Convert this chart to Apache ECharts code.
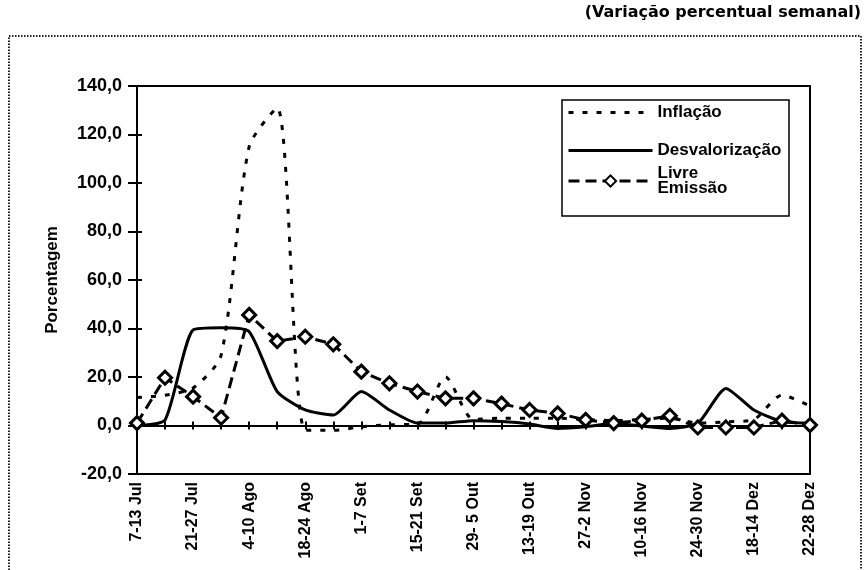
<!DOCTYPE html>
<html>
<head>
<meta charset="utf-8">
<script src="https://cdn.jsdelivr.net/npm/echarts@6/dist/echarts.min.js"></script>
<style>
  html, body { margin: 0; padding: 0; background: #fff; }
  #chart { width: 864px; height: 570px; }
</style>
</head>
<body>
<div id="chart"></div>
<script>
// semanas (jul - dez)
const semanas = ['7-13 Jul', '14-20 Jul', '21-27 Jul', '28-3 Ago', '4-10 Ago', '11-17 Ago', '18-24 Ago', '25-31 Ago',
  '1-7 Set', '8-14 Set', '15-21 Set', '22-28 Set', '29- 5 Out', '6-12 Out', '13-19 Out', '20-26 Out',
  '27-2 Nov', '3-9 Nov', '10-16 Nov', '17-23 Nov', '24-30 Nov', '1-7 Dez', '18-14 Dez', '15-21 Dez', '22-28 Dez']

const inflacao = [11.5, 12.5, 15.5, 29, 115, 131, -2, -2, -0.5, 0.3, 0.5, 20, 2.5, 3, 3, 3, 2.5, 2, 2.5, 3, 1, 1.5, 2.5, 12.5, 8]
const desvalorizacao = [0, 2.3, 39.4, 40.3, 38.7, 14, 6.4, 4.3, 14, 6.4, 1, 1, 2, 1.6, 0.6, -1.2, -0.5, 0.8, -0.2, -1.2, 0.9, 15.3, 6.4, 1.6, 1]
const livreEmissao = [1, 19.7, 11.9, 3.2, 45.6, 34.8, 36.6, 33.5, 22.2, 17.4, 14, 11.2, 11.2, 9, 6.4, 5, 2.3, 1, 2, 4, -0.8, -0.8, -0.8, 2, 0.2]

const yMin = -20
const yMax = 140
const yStep = 20

const chartInstance = echarts.init(document.getElementById('chart'))

const fmt = v => v.toFixed(1).replace('.', ',')
const bold = { color: '#000', fontWeight: 'bold', fontFamily: '"Liberation Sans"' }

const option = {
  animation: false,
  backgroundColor: '#fff',
  title: {
    text: '(Variação percentual semanal)',
    right: 3,
    top: 5,
    padding: 0,
    textStyle: { color: '#000', fontSize: 16, fontWeight: 'bold', fontFamily: '"DejaVu Sans"' }
  },
  graphic: [
    {
      type: 'rect',
      shape: { x: 9, y: 36, width: 852, height: 600 },
      style: { fill: 'none', stroke: '#222', lineWidth: 2, lineDash: [1.5, 1.5] },
      silent: true
    },
    {
      type: 'rect',
      shape: { x: 562, y: 100, width: 227, height: 116 },
      style: { fill: 'none', stroke: '#000', lineWidth: 1.5 },
      silent: true
    }
  ],
  legend: [
    {
      data: [
        { name: 'Inflação', itemStyle: { opacity: 0 } },
        { name: 'Desvalorização', itemStyle: { opacity: 0 } }
      ],
      orient: 'vertical',
      left: 567,
      top: 104,
      padding: 0,
      itemGap: 21,
      itemWidth: 84,
      itemHeight: 14,
      selectedMode: false,
      lineStyle: { width: 3 },
      textStyle: Object.assign({ fontSize: 17 }, bold)
    },
    {
      data: ['Livre Emissão'],
      orient: 'vertical',
      left: 567,
      top: 165,
      padding: 0,
      itemWidth: 84,
      itemHeight: 14,
      selectedMode: false,
      lineStyle: { width: 3 },
      formatter: () => 'Livre\nEmissão',
      textStyle: Object.assign({ fontSize: 17, lineHeight: 15 }, bold)
    }
  ],
  grid: {
    left: 137,
    right: 54,
    top: 86,
    bottom: 96,
    show: true,
    borderColor: '#000',
    borderWidth: 2
  },
  xAxis: [
    {
      type: 'category',
      data: semanas,
      boundaryGap: false,
      position: 'bottom',
      axisLine: { onZero: false, lineStyle: { color: '#000', width: 2 } },
      axisTick: { show: false },
      axisLabel: Object.assign({ rotate: 90, interval: 1, fontSize: 16, margin: 8 }, bold),
      splitLine: { show: false }
    },
    {
      // linha do zero, marcas para baixo
      type: 'category',
      data: semanas,
      boundaryGap: false,
      position: 'bottom',
      axisLine: { onZero: true, onZeroAxisIndex: 0, lineStyle: { color: '#000', width: 2 } },
      axisTick: { show: true, interval: 0, length: 4, lineStyle: { color: '#000', width: 2 } },
      axisLabel: { show: false },
      splitLine: { show: false }
    },
    {
      // linha do zero, marcas para cima
      type: 'category',
      data: semanas,
      boundaryGap: false,
      position: 'bottom',
      axisLine: { show: false, onZero: true, onZeroAxisIndex: 1 },
      axisTick: { show: true, inside: true, interval: 0, length: 4, lineStyle: { color: '#000', width: 2 } },
      axisLabel: { show: false },
      splitLine: { show: false }
    }
  ],
  yAxis: [
    {
      type: 'value',
      min: yMin,
      max: yMax,
      interval: yStep,
      name: 'Porcentagem',
      nameLocation: 'middle',
      nameRotate: 90,
      nameGap: 76,
      nameTextStyle: Object.assign({ fontSize: 17 }, bold),
      axisLine: { show: true, onZero: false, lineStyle: { color: '#000', width: 2 } },
      axisTick: { show: true, length: 9, lineStyle: { color: '#000', width: 2 } },
      axisLabel: Object.assign({ fontSize: 18, margin: 15, formatter: fmt }, bold),
      splitLine: { show: false }
    },
    {
      type: 'value',
      min: yMin,
      max: yMax,
      interval: yStep,
      position: 'left',
      axisLine: { show: false, onZero: false },
      axisTick: { show: true, inside: true, length: 5, lineStyle: { color: '#000', width: 2 } },
      axisLabel: { show: false },
      splitLine: { show: false }
    }
  ],
  series: [
    {
      name: 'Inflação',
      type: 'line',
      data: inflacao,
      smooth: 0.25,
      symbol: 'none',
      lineStyle: { color: '#000', width: 3, type: [5, 9] },
      itemStyle: { color: '#000' },
      z: 3
    },
    {
      name: 'Desvalorização',
      type: 'line',
      data: desvalorizacao,
      smooth: 0.2,
      symbol: 'none',
      lineStyle: { color: '#000', width: 3, type: 'solid' },
      itemStyle: { color: '#000' },
      z: 4
    },
    {
      name: 'Livre Emissão',
      type: 'line',
      data: livreEmissao,
      symbol: 'diamond',
      symbolSize: 13,
      showAllSymbol: true,
      lineStyle: { color: '#000', width: 3, type: [11, 6] },
      itemStyle: { color: '#fff', borderColor: '#000', borderWidth: 3 },
      z: 5
    }
  ]
}

chartInstance.setOption(option)
</script>
</body>
</html>
